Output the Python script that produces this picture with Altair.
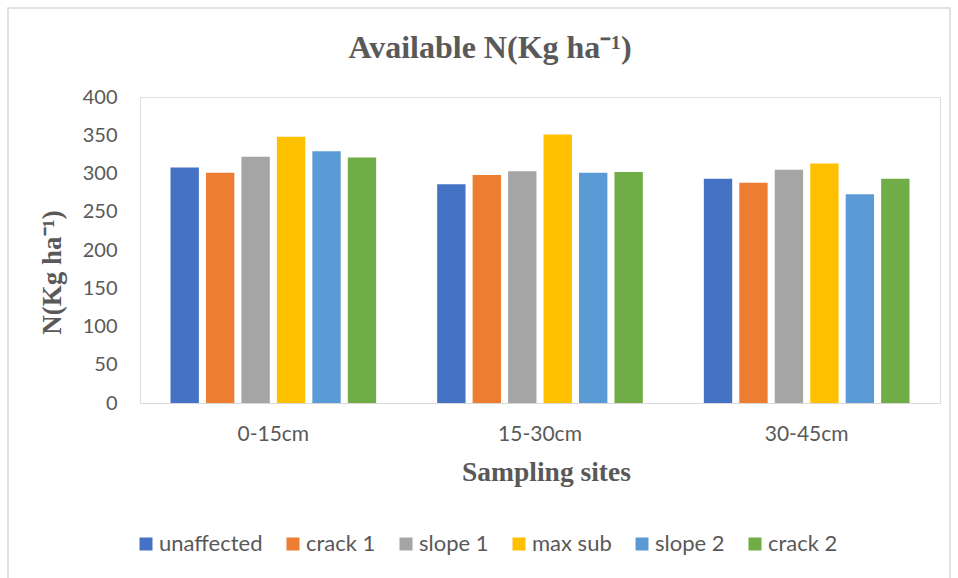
import altair as alt
import pandas as pd

sites = ["0-15cm", "15-30cm", "30-45cm"]
series = ["unaffected", "crack 1", "slope 1", "max sub", "slope 2", "crack 2"]
colors = ["#4472C4", "#ED7D31", "#A5A5A5", "#FFC000", "#5B9BD5", "#70AD47"]
values = {
    "unaffected": [308, 286, 293],
    "crack 1":    [301, 298, 288],
    "slope 1":    [322, 303, 305],
    "max sub":    [348, 351, 313],
    "slope 2":    [329, 301, 273],
    "crack 2":    [321, 302, 293],
}
y_ticks = [0, 50, 100, 150, 200, 250, 300, 350, 400]
chart_title = "Available N(Kg ha⁻¹)"

rows = []
for s in series:
    for i, site in enumerate(sites):
        rows.append({"site": site, "series": s, "value": values[s][i]})
df = pd.DataFrame(rows)

label_font = "Lato"
serif = "Liberation Serif"
gray = "#595959"

bars = alt.Chart(df).mark_bar().encode(
    x=alt.X("site:N", sort=sites,
            scale=alt.Scale(paddingInner=0, paddingOuter=0),
            axis=alt.Axis(title="Sampling sites", labelAngle=0, ticks=False,
                          domainColor="#d9d9d9", labelFontSize=21, labelFont=label_font,
                          labelColor=gray, labelPadding=20,
                          titleFont=serif, titleFontSize=27.5, titleFontWeight="bold",
                          titleColor=gray, titlePadding=14, titleX=406)),
    xOffset=alt.XOffset("series:N", sort=series,
                        scale=alt.Scale(paddingInner=0.2, paddingOuter=0.86)),
    y=alt.Y("value:Q", scale=alt.Scale(domain=[0, 400], nice=False),
            axis=alt.Axis(values=y_ticks, title="N(Kg ha⁻¹)", grid=False, domain=False,
                          ticks=False, labelFontSize=20, labelFont=label_font,
                          labelColor=gray, labelPadding=23,
                          titleFont=serif, titleFontSize=27, titleFontWeight="bold",
                          titleColor=gray, titleX=-74, titleY=175)),
    color=alt.Color("series:N", sort=series,
                    scale=alt.Scale(domain=series, range=colors),
                    legend=alt.Legend(title=None, orient="none", direction="horizontal",
                                      legendX=-5, legendY=436, padding=0,
                                      symbolType="square",
                                      symbolSize=169, symbolStrokeWidth=0,
                                      labelFontSize=22, labelFont=label_font,
                                      labelColor=gray, columnPadding=19, labelOffset=2)),
)

frame = alt.Chart(alt.Data(values=[{}])).mark_rect(
    fill=None, stroke="#d9d9d9", strokeWidth=1.5
).encode(
    x=alt.value(-132), x2=alt.value(810), y=alt.value(-89), y2=alt.value(500)
)

title = alt.Chart(alt.Data(values=[{"t": chart_title}])).mark_text(
    font=serif, fontSize=32, fontWeight="bold", color=gray,
    align="center", baseline="middle"
).encode(x=alt.value(350), y=alt.value(-49), text="t:N")

chart = alt.layer(frame, bars, title).properties(
    width=800, height=306,
    padding={"left": 140, "top": 97, "right": 18, "bottom": 175},
    autosize=alt.AutoSizeParams(type="none"),
).configure_view(strokeWidth=0).configure(background="white")

chart.save("out.html", embed_options={"renderer": "svg", "actions": False})
